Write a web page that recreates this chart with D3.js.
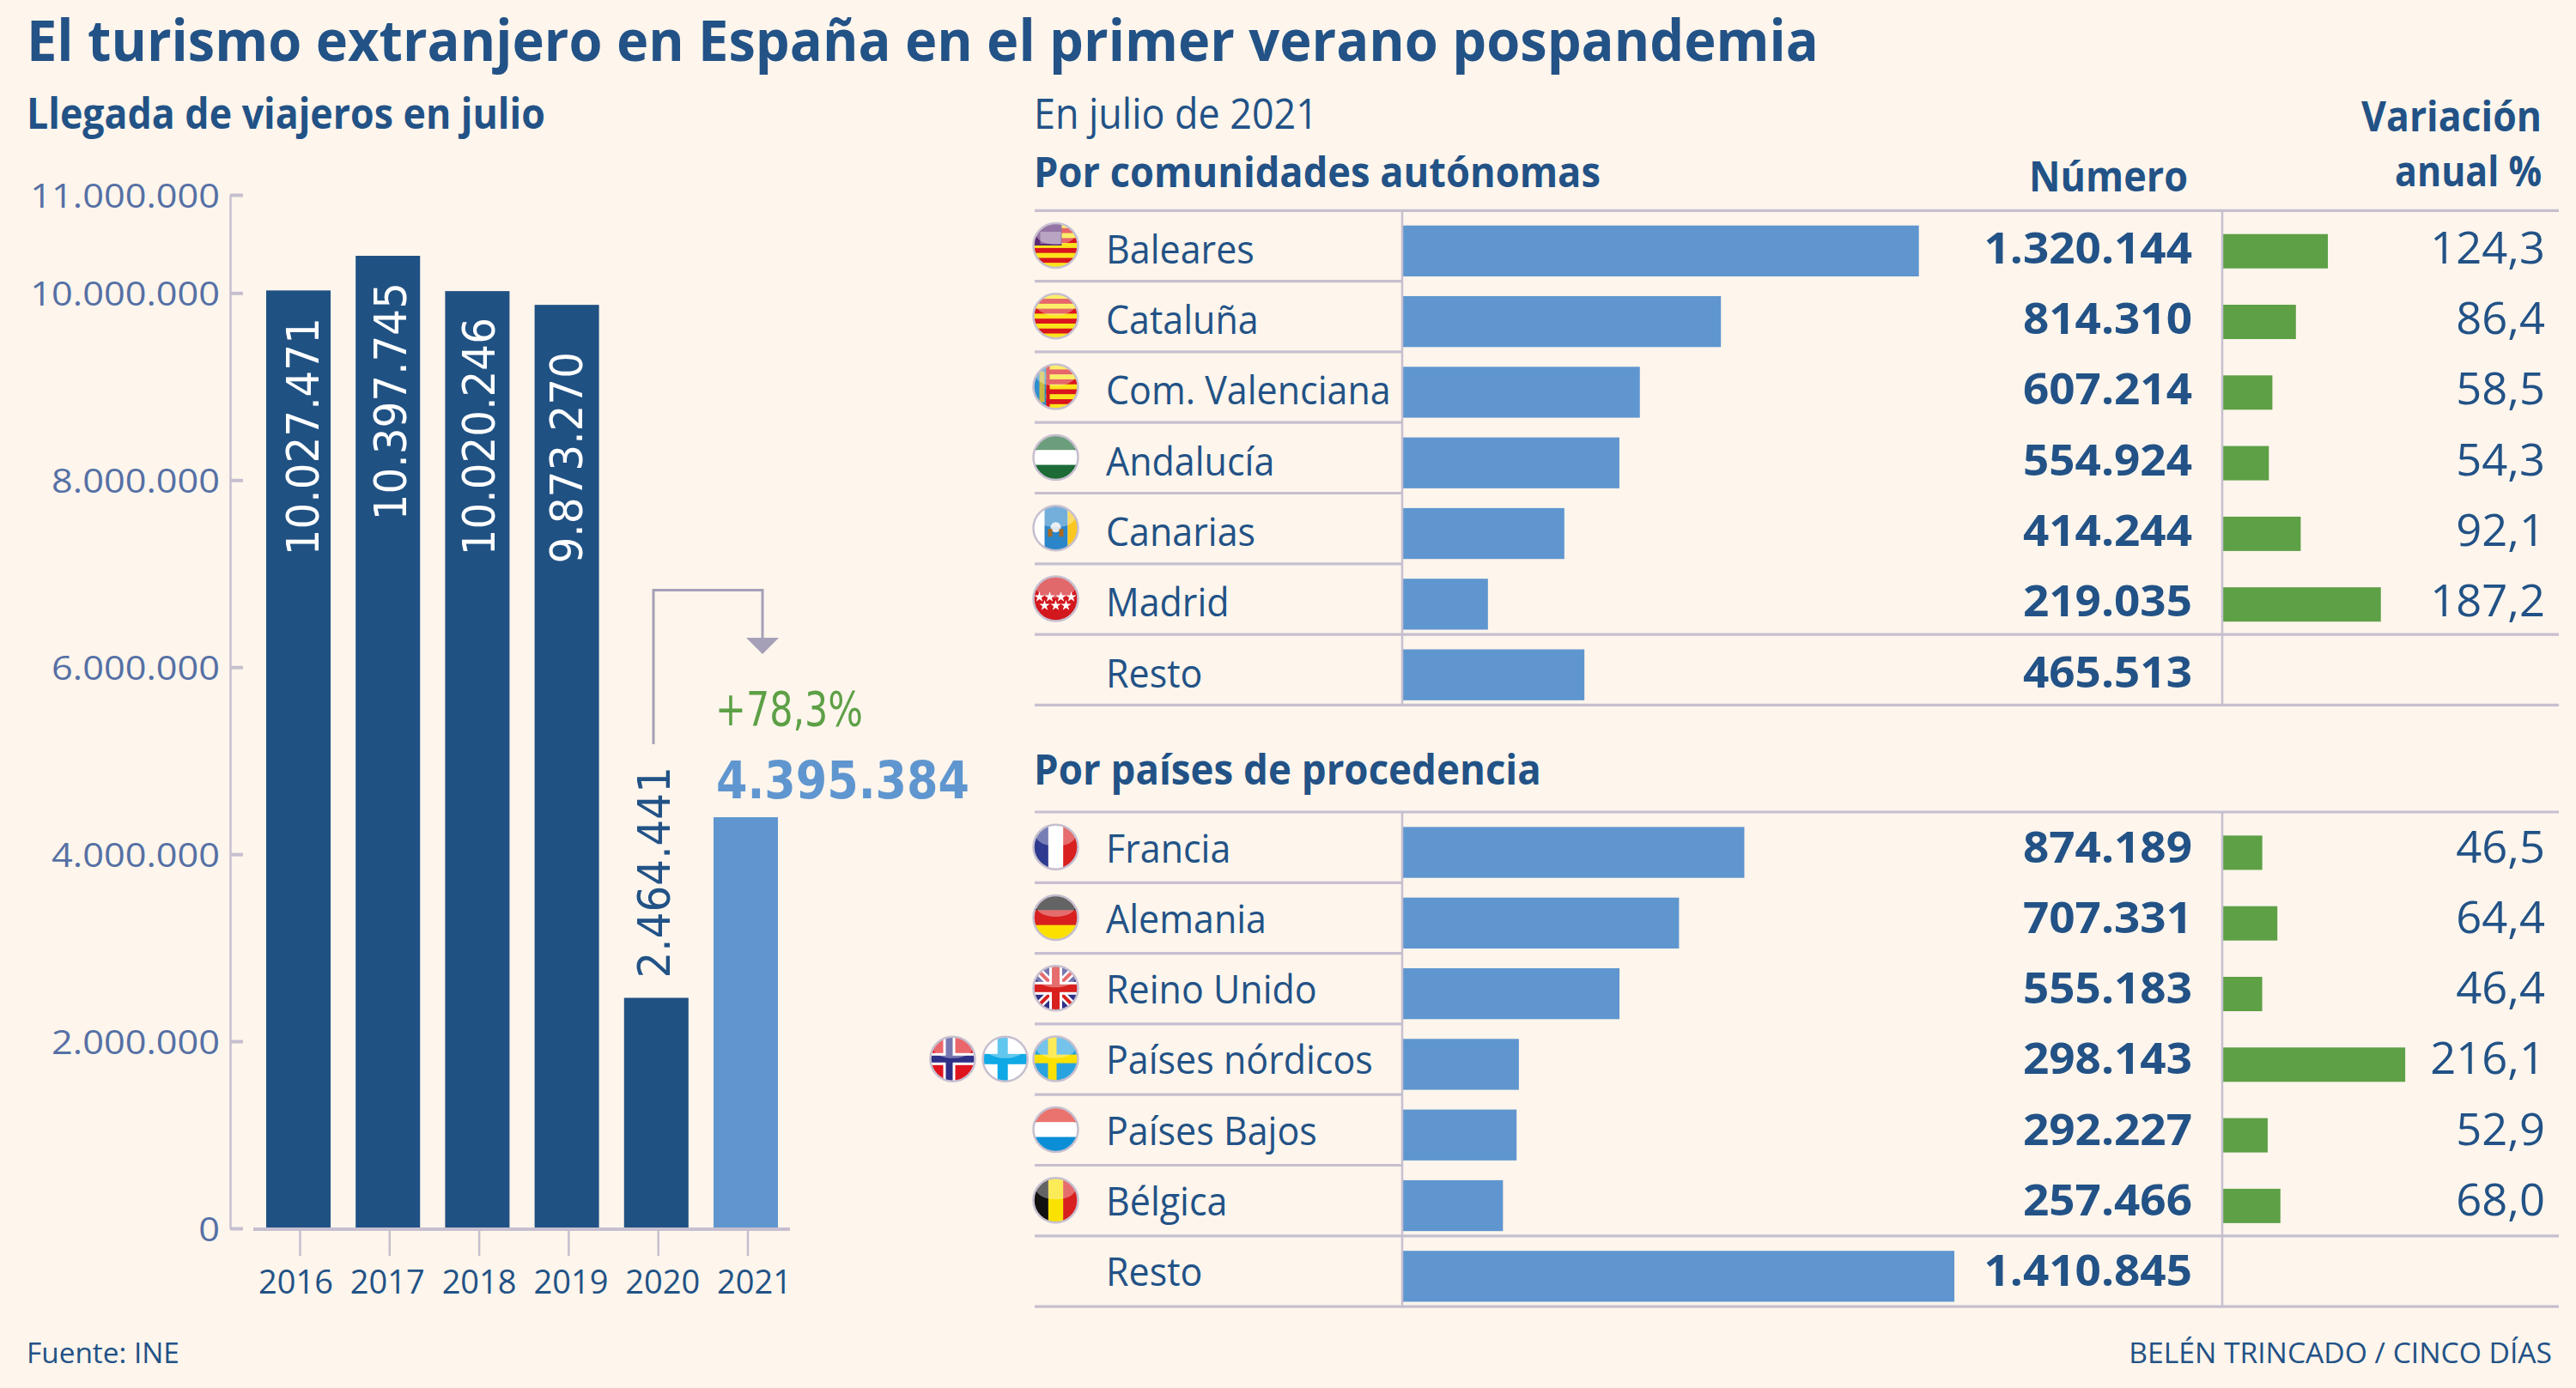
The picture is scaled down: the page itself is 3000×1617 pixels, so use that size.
<!DOCTYPE html>
<html lang="es">
<head>
<meta charset="utf-8">
<title>Turismo extranjero en España</title>
<script src="https://cdn.jsdelivr.net/npm/d3@7"></script>
<style>
  html, body { margin: 0; padding: 0; background: #fef5ec; }
  svg { display: block; }
  text { font-family: "Open Sans", sans-serif; }
</style>
</head>
<body>
<svg id="chart" width="3000" height="1617"></svg>
<script>
// data
const years = ['2016', '2017', '2018', '2019', '2020', '2021']
const arrivals = [10027471, 10397745, 10020246, 9873270, 2464441, 4395384]
const axisTicks = [0, 2000000, 4000000, 6000000, 8000000, 10000000, 11000000]

const regions = ['Baleares', 'Cataluña', 'Com. Valenciana', 'Andalucía', 'Canarias', 'Madrid', 'Resto']
const regionNumbers = [1320144, 814310, 607214, 554924, 414244, 219035, 465513]
const regionChange = [124.3, 86.4, 58.5, 54.3, 92.1, 187.2, null]
const regionFlags = ['bal', 'cat', 'val', 'and', 'can', 'mad', null]

const countries = ['Francia', 'Alemania', 'Reino Unido', 'Países nórdicos', 'Países Bajos', 'Bélgica', 'Resto']
const countryNumbers = [874189, 707331, 555183, 298143, 292227, 257466, 1410845]
const countryChange = [46.5, 64.4, 46.4, 216.1, 52.9, 68.0, null]
const countryFlags = ['fra', 'ger', 'uk', 'swe', 'nld', 'bel', null]

const darkBlue = '#205183', textBlue = '#225286', tickBlue = '#5570a5'
const lightBlue = '#5f96cf', green = '#5da046', rule = '#c6bfcf', arrowGrey = '#a5a0b8'
const dejavu = '"DejaVu Sans", sans-serif'

const es = d3.formatLocale({ decimal: ',', thousands: '.', grouping: [3], currency: ['', '€'] })
const fmtInt = es.format(',d')
const fmtPct = es.format(',.1f')

const svg = d3.select('#chart')

// text helper: sx squeezes the glyphs, w fits the text to a measured width
function txt(parent, s, x, y, o) {
    const t = parent.append('text')
        .text(s)
        .attr('text-anchor', o.anchor || 'start')
        .attr('font-size', o.size)
        .attr('font-weight', o.weight || 400)
        .attr('fill', o.fill || textBlue)
    if (o.family) t.style('font-family', o.family)
    let sx = o.sx || 1
    if (o.w) sx = o.w / t.node().getComputedTextLength()
    t.attr('transform', `translate(${x},${y}) scale(${sx},1)`)
    return t
}

// headings
txt(svg, 'El turismo extranjero en España en el primer verano pospandemia', 31, 71, { size: 66, weight: 700, w: 2087 })
txt(svg, 'Llegada de viajeros en julio', 31, 150, { size: 50, weight: 700, w: 604 })
txt(svg, 'En julio de 2021', 1204, 150, { size: 49, w: 331 })
txt(svg, 'Por comunidades autónomas', 1204, 218, { size: 49, weight: 700, w: 660 })
txt(svg, 'Número', 2548, 223, { size: 49, weight: 700, anchor: 'end', w: 185 })
txt(svg, 'Variación', 2960, 153, { size: 49, weight: 700, anchor: 'end', w: 210 })
txt(svg, 'anual %', 2960, 217, { size: 49, weight: 700, anchor: 'end', w: 171 })
txt(svg, 'Por países de procedencia', 1204, 914, { size: 49, weight: 700, w: 591 })
txt(svg, 'Fuente: INE', 31, 1588, { size: 33, w: 178 })
txt(svg, 'BELÉN TRINCADO / CINCO DÍAS', 2972, 1588, { size: 33, anchor: 'end', w: 493 })

// left chart
const zeroY = 1431
const y = d3.scaleLinear().domain([0, 10397745, 11000000]).range([zeroY, 298, 227])
const x = d3.scaleBand().domain(years).range([310, 906]).paddingInner(0.28).paddingOuter(0)

const left = svg.append('g')

left.append('g').selectAll('rect')
    .data(arrivals)
    .join('rect')
    .attr('x', (d, i) => x(years[i]))
    .attr('y', d => y(d))
    .attr('width', x.bandwidth())
    .attr('height', d => zeroY - y(d))
    .attr('fill', (d, i) => i === 5 ? lightBlue : darkBlue)

const yAxis = left.append('g')
    .attr('transform', 'translate(268,0)')
    .call(d3.axisLeft(y).tickValues(axisTicks).tickFormat(fmtInt).tickSize(-15).tickSizeOuter(0))
yAxis.select('.domain').attr('stroke', rule).attr('stroke-width', 2.5)
yAxis.selectAll('.tick line').attr('stroke', rule).attr('stroke-width', 4)
yAxis.selectAll('.tick text')
    .attr('x', null).attr('dy', null)
    .attr('font-size', 39)
    .attr('fill', tickBlue)
    .attr('text-anchor', 'end')
    .style('font-family', '"Open Sans", sans-serif')
    .attr('transform', `translate(-12,14) scale(1.11,1)`)

// year ticks and labels sit on slightly different steps than the bars
const xTicks = d3.scalePoint().domain(years).range([349, 870.5])
const xLabels = d3.scalePoint().domain(years).range([344, 878])

const xAxis = left.append('g')
    .attr('transform', `translate(0,${zeroY + 1})`)
    .call(d3.axisBottom(xTicks).tickSize(31).tickFormat(''))
xAxis.select('.domain').remove()
xAxis.selectAll('.tick line').attr('stroke', rule).attr('stroke-width', 2.5)

const xLabelAxis = left.append('g')
    .attr('transform', 'translate(0,1507)')
    .call(d3.axisBottom(xLabels).tickSize(0).tickPadding(0))
xLabelAxis.select('.domain').remove()
xLabelAxis.selectAll('.tick text')
    .attr('y', 0).attr('dy', 0)
    .attr('font-size', 38)
    .attr('fill', textBlue)
    .style('font-family', '"Open Sans", sans-serif')

left.append('line')
    .attr('x1', 295).attr('x2', 920)
    .attr('y1', zeroY + 1).attr('y2', zeroY + 1)
    .attr('stroke', rule).attr('stroke-width', 4)

const valueX = d3.scalePoint().domain(years.slice(0, 5)).range([371, 780])
const valueTop = [370, 329, 370, 410, 893]
arrivals.slice(0, 5).forEach((d, i) => {
    left.append('text')
        .text(fmtInt(d))
        .attr('transform', `translate(${valueX(years[i])},${valueTop[i]}) rotate(-90) scale(0.95,1)`)
        .attr('text-anchor', 'end')
        .attr('font-size', 51)
        .style('font-family', dejavu)
        .attr('fill', i === 4 ? textBlue : '#ffffff')
})

// change arrow 2020 -> 2021
left.append('path')
    .attr('d', d3.line()([[761, 867], [761, 687.5], [888, 687.5], [888, 745]]))
    .attr('fill', 'none').attr('stroke', arrowGrey).attr('stroke-width', 3)
left.append('path')
    .attr('d', d3.line()([[869, 743], [907, 743], [888, 762]]) + 'Z')
    .attr('fill', arrowGrey)

txt(left, '+78,3%', 833, 845, { size: 55, fill: green, w: 172, family: dejavu })
txt(left, fmtInt(arrivals[5]), 834, 930, { size: 60, weight: 700, fill: lightBlue, w: 295, family: dejavu })

// flags
const flagR = 26
svg.append('defs').append('clipPath').attr('id', 'disc').append('circle').attr('r', flagR)

function hStripes(g, colors) {
    const band = d3.scaleBand().domain(d3.range(colors.length)).range([-flagR, flagR])
    colors.forEach((c, i) => g.append('rect').attr('x', -flagR).attr('y', band(i)).attr('width', 2 * flagR).attr('height', band.bandwidth() + 0.5).attr('fill', c))
}
function vStripes(g, colors) {
    const band = d3.scaleBand().domain(d3.range(colors.length)).range([-flagR, flagR])
    colors.forEach((c, i) => g.append('rect').attr('x', band(i)).attr('y', -flagR).attr('width', band.bandwidth() + 0.5).attr('height', 2 * flagR).attr('fill', c))
}
function box(g, x0, y0, w, h, c, op) {
    return g.append('rect').attr('x', x0).attr('y', y0).attr('width', w).attr('height', h).attr('fill', c).attr('opacity', op === undefined ? 1 : op)
}
function cross(g, cx, cw, c) {
    box(g, cx - cw / 2, -flagR, cw, 2 * flagR, c)
    box(g, -flagR, -cw / 2, 2 * flagR, cw, c)
}
const senyera = ['#fbe41c', '#d9141c', '#fbe41c', '#d9141c', '#fbe41c', '#d9141c', '#fbe41c', '#d9141c', '#fbe41c']

const flagPainters = {
    cat: g => hStripes(g, senyera),
    bal: g => {
        hStripes(g, senyera)
        box(g, -flagR, -flagR, 33, 26, '#5b2a73')
        box(g, -18, -16, 24, 14, '#ffffff', 0.35)
    },
    val: g => {
        hStripes(g, senyera)
        box(g, -flagR, -flagR, 15, 2 * flagR, '#2d8fcf')
        box(g, -19, -18, 6, 36, '#f3c21b', 0.8)
        box(g, -11, -flagR, 4, 2 * flagR, '#d9141c')
    },
    and: g => hStripes(g, ['#1d6b37', '#ffffff', '#1d6b37']),
    can: g => {
        box(g, -flagR, -flagR, 13, 2 * flagR, '#ffffff')
        box(g, -13, -flagR, 27, 2 * flagR, '#2a85c9')
        box(g, 14, -flagR, 12, 2 * flagR, '#fcc71e')
        g.append('circle').attr('r', 6).attr('cy', -1).attr('fill', '#dfe6ee')
        box(g, -9, 1, 5, 9, '#a86a24')
        box(g, 4, 1, 5, 9, '#a86a24')
    },
    mad: g => {
        box(g, -flagR, -flagR, 2 * flagR, 2 * flagR, '#d2171d')
        const star = d3.symbol().type(d3.symbolStar).size(46)
        const xs = [-19, -7, 6, 18, -13, 0, 12]
        const ys = [-2, -2, -2, -2, 8, 8, 8]
        xs.forEach((sx, i) => g.append('path').attr('d', star()).attr('transform', `translate(${sx},${ys[i]})`).attr('fill', '#ffffff'))
    },
    fra: g => vStripes(g, ['#2e3a8f', '#ffffff', '#d8201f']),
    ger: g => hStripes(g, ['#111111', '#d8201f', '#fbe100']),
    uk: g => {
        box(g, -flagR, -flagR, 2 * flagR, 2 * flagR, '#2e2f86')
        const diag = (w, c) => {
            g.append('line').attr('x1', -flagR).attr('y1', -flagR).attr('x2', flagR).attr('y2', flagR).attr('stroke', c).attr('stroke-width', w)
            g.append('line').attr('x1', -flagR).attr('y1', flagR).attr('x2', flagR).attr('y2', -flagR).attr('stroke', c).attr('stroke-width', w)
        }
        diag(9, '#ffffff')
        diag(4, '#d8201f')
        cross(g, 0, 15, '#ffffff')
        cross(g, 0, 9, '#d8201f')
    },
    nor: g => {
        box(g, -flagR, -flagR, 2 * flagR, 2 * flagR, '#e0141c')
        cross(g, -4, 14, '#ffffff')
        cross(g, -4, 8, '#2e2f86')
    },
    fin: g => {
        box(g, -flagR, -flagR, 2 * flagR, 2 * flagR, '#ffffff')
        cross(g, -3, 12, '#0fa9e6')
    },
    swe: g => {
        box(g, -flagR, -flagR, 2 * flagR, 2 * flagR, '#29a3e0')
        cross(g, -4, 10, '#fbe100')
    },
    nld: g => hStripes(g, ['#e0291f', '#ffffff', '#0b8ed6']),
    bel: g => vStripes(g, ['#111111', '#fbe100', '#d8201f'])
}

function drawFlag(kind, cx, cy) {
    const g = svg.append('g').attr('transform', `translate(${cx},${cy})`)
    const inner = g.append('g').attr('clip-path', 'url(#disc)')
    flagPainters[kind](inner)
    inner.append('ellipse').attr('cy', -13).attr('rx', 23).attr('ry', 12).attr('fill', '#ffffff').attr('opacity', 0.35)
    g.append('circle').attr('r', flagR).attr('fill', 'none').attr('stroke', rule).attr('stroke-width', 2.5)
}

// right tables
const widthScale = d3.scaleLinear().domain([0, 1320144]).range([0, 601.7])
const changeScale = d3.scaleLinear().domain([0, 124.3]).range([0, 122])

function drawTable(top, names, numbers, change, flags, baseOffset) {
    const rowH = 82.3
    const rows = d3.scaleBand().domain(names).range([top, top + rowH * names.length])
    const g = svg.append('g')

    g.selectAll('.bar').data(numbers).join('rect')
        .attr('class', 'bar')
        .attr('x', 1633)
        .attr('y', (d, i) => rows(names[i]) + 17.4)
        .attr('width', d => widthScale(d))
        .attr('height', 59.3)
        .attr('fill', lightBlue)

    g.selectAll('.change').data(change.filter(d => d !== null)).join('rect')
        .attr('class', 'change')
        .attr('x', 2589)
        .attr('y', (d, i) => rows(names[i]) + 27.4)
        .attr('width', d => changeScale(d))
        .attr('height', 40)
        .attr('fill', green)

    // rules
    const bottom = top + rowH * names.length
    d3.range(8).forEach(i => {
        const ry = top + rowH * i
        const full = i === 0 || i >= 6
        g.append('line').attr('x1', 1205).attr('x2', full ? 2980 : 1633)
            .attr('y1', ry).attr('y2', ry)
            .attr('stroke', rule).attr('stroke-width', 3.2)
    })
    ;[1633, 2588].forEach(vx => {
        g.append('line').attr('x1', vx).attr('x2', vx).attr('y1', top).attr('y2', bottom)
            .attr('stroke', rule).attr('stroke-width', 2.5)
    })

    names.forEach((name, i) => {
        const base = rows(name) + baseOffset
        txt(g, name, 1288, base, { size: 46, sx: 0.935 })
        txt(g, fmtInt(numbers[i]), 2553, base, { size: 51, weight: 700, anchor: 'end', sx: 1.04 })
        if (change[i] !== null) txt(g, fmtPct(change[i]), 2964, base, { size: 51, anchor: 'end', sx: 1.03 })
        if (flags[i]) drawFlag(flags[i], 1229.5, rows(name) + 40.7)
    })
}

drawTable(245.3, regions, regionNumbers, regionChange, regionFlags, 61.5)
drawTable(946, countries, countryNumbers, countryChange, countryFlags, 58.5)

// the two extra nordic flags
drawFlag('nor', 1109.5, 1233.8)
drawFlag('fin', 1170.7, 1233.8)
</script>
</body>
</html>
